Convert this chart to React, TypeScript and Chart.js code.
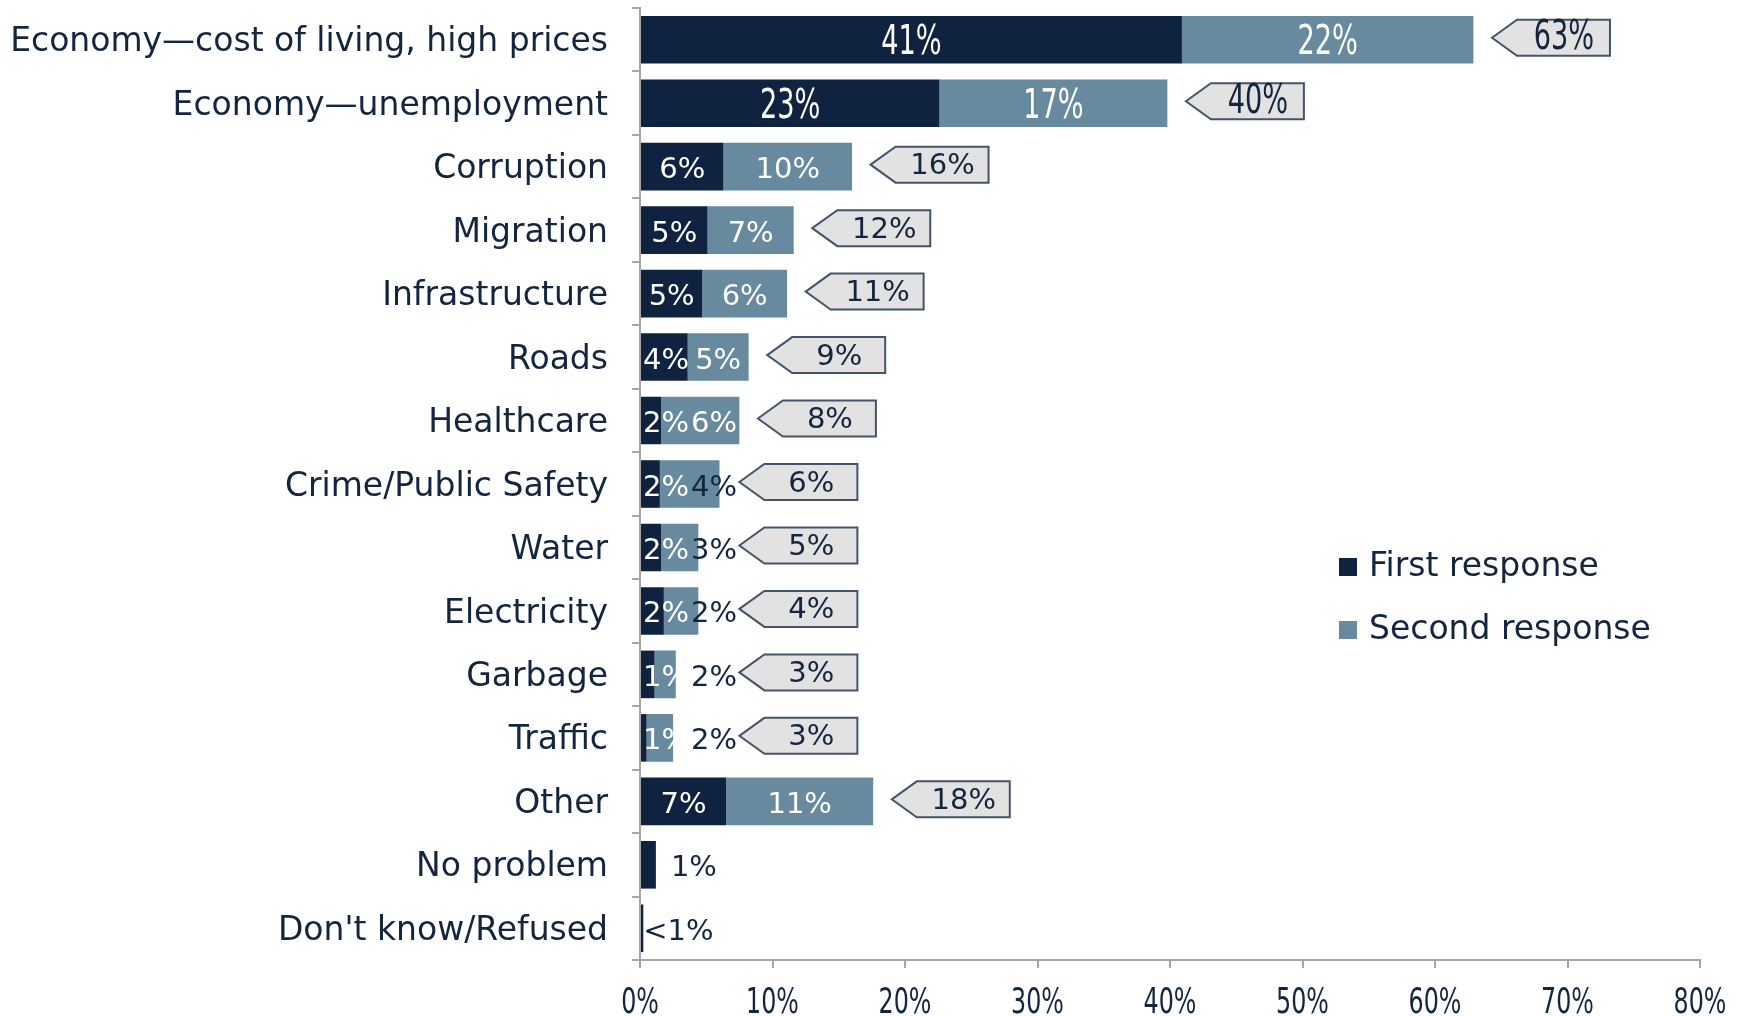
import React, { useEffect, useRef } from "react";
import { Chart, registerables } from "chart.js";

Chart.register(...registerables);

const categories = [
  "Economy\u2014cost of living, high prices",
  "Economy\u2014unemployment",
  "Corruption",
  "Migration",
  "Infrastructure",
  "Roads",
  "Healthcare",
  "Crime/Public Safety",
  "Water",
  "Electricity",
  "Garbage",
  "Traffic",
  "Other",
  "No problem",
  "Don't know/Refused",
];
const firstResponse = [40.9, 22.6, 6.3, 5.1, 4.7, 3.6, 1.6, 1.5, 1.6, 1.8, 1.1, 0.5, 6.5, 1.2, 0.25];
const secondResponse = [22.0, 17.2, 9.7, 6.5, 6.4, 4.6, 5.9, 4.5, 2.8, 2.6, 1.6, 2.0, 11.1, 0, 0];
const firstLabels = ["41%", "23%", "6%", "5%", "5%", "4%", "2%", "2%", "2%", "2%", "1%", "1%", "7%", "1%", "<1%"];
const secondLabels = ["22%", "17%", "10%", "7%", "6%", "5%", "6%", "4%", "3%", "2%", "2%", "2%", "11%", "", ""];
const totalLabels = ["63%", "40%", "16%", "12%", "11%", "9%", "8%", "6%", "5%", "4%", "3%", "3%", "18%", "", ""];
const seriesNames = ["First response", "Second response"];
const xTickValues = [0, 10, 20, 30, 40, 50, 60, 70, 80];

const NAVY = "#0f2340";
const STEEL = "#678a9e";
const GRAY = "#a6a6a6";
const TEXT = "#14253f";
const LABEL_FONT = "'DejaVu Sans', sans-serif";

// draw text horizontally condensed
function condensedText(ctx: any, text: string, x: number, y: number, size: number, scale: number, align: string) {
  ctx.save();
  ctx.font = `${size}px 'DejaVu Sans', sans-serif`;
  ctx.textAlign = align;
  ctx.textBaseline = "middle";
  ctx.translate(x, y);
  ctx.scale(scale, 1);
  ctx.fillText(text, 0, 0);
  ctx.restore();
}

const labelsPlugin = {
  id: "customLabels",
  afterDraw(chart: any) {
    const ctx = chart.ctx;
    const xScale = chart.scales.x;
    ctx.save();
    // x tick labels (condensed)
    ctx.fillStyle = TEXT;
    for (const t of xScale.ticks) {
      const px = xScale.getPixelForValue(t.value);
      condensedText(ctx, `${t.value}%`, px, 1004, 36, 0.66, "center");
    }
    const m0 = chart.getDatasetMeta(0);
    const m1 = chart.getDatasetMeta(1);
    ctx.textBaseline = "middle";
    for (let i = 0; i < categories.length; i++) {
      const big = i < 2;
      const e0 = m0.data[i];
      const e1 = m1.data[i];
      const t0 = firstLabels[i];
      const t1 = secondLabels[i];
      const left0 = Math.min(e0.base, e0.x);
      const right0 = Math.max(e0.base, e0.x);
      const left1 = Math.min(e1.base, e1.x);
      const right1 = Math.max(e1.base, e1.x);
      const ty = e0.y + 4;
      if (big) {
        ctx.fillStyle = "#ffffff";
        condensedText(ctx, t0, (left0 + right0) / 2, ty, 40, 0.68, "center");
        condensedText(ctx, t1, (left1 + right1) / 2, ty, 40, 0.68, "center");
      } else {
        ctx.font = `29px ${LABEL_FONT}`;
        const w0 = ctx.measureText(t0).width;
        if (!t1) {
          ctx.fillStyle = TEXT;
          ctx.textAlign = "left";
          ctx.fillText(t0, right0 + (firstResponse[i] > 0.5 ? 15 : 0), ty);
        } else {
          const c0 = Math.max((left0 + right0) / 2, left0 + w0 / 2 + 2);
          ctx.textAlign = "center";
          ctx.fillStyle = "#ffffff";
          ctx.fillText(t0, c0, ty);
          const w1 = ctx.measureText(t1).width;
          const c1 = Math.max((left1 + right1) / 2, c0 + w0 / 2 + w1 / 2 + 2);
          const small = parseInt(t1, 10) < 5;
          ctx.fillStyle = small ? TEXT : "#ffffff";
          ctx.fillText(t1, c1, ty);
        }
      }
      // callouts
      const tl = totalLabels[i];
      if (tl) {
        const total = firstResponse[i] + secondResponse[i];
        const tipX = xScale.getPixelForValue(Math.max(total + 1.4, 7.5));
        const cy = e0.y - 2;
        const h = 18;
        ctx.beginPath();
        ctx.moveTo(tipX, cy);
        ctx.lineTo(tipX + 25, cy - h);
        ctx.lineTo(tipX + 118, cy - h);
        ctx.lineTo(tipX + 118, cy + h);
        ctx.lineTo(tipX + 25, cy + h);
        ctx.closePath();
        ctx.fillStyle = "#e2e2e2";
        ctx.fill();
        ctx.lineWidth = 2;
        ctx.strokeStyle = "#44546a";
        ctx.stroke();
        ctx.fillStyle = TEXT;
        if (big) {
          condensedText(ctx, tl, tipX + 72, cy + 1, 40, 0.68, "center");
        } else {
          ctx.font = `29px ${LABEL_FONT}`;
          ctx.textAlign = "center";
          ctx.fillText(tl, tipX + 72, cy + 2);
        }
      }
    }
    // legend
    const lx = 1339;
    const ly = [567, 630];
    ctx.font = `33px ${LABEL_FONT}`;
    ctx.textAlign = "left";
    ctx.textBaseline = "middle";
    for (let k = 0; k < 2; k++) {
      const ds = chart.data.datasets[k];
      ctx.fillStyle = ds.backgroundColor;
      ctx.fillRect(lx, ly[k] - 9, 18, 18);
      ctx.fillStyle = TEXT;
      ctx.fillText(ds.label, lx + 30, ly[k]);
    }
    ctx.restore();
  },
};

export default function App() {
  const ref = useRef<HTMLCanvasElement | null>(null);
  useEffect(() => {
    if (!ref.current) return;
    const chart = new Chart(ref.current, {
      type: "bar",
      data: {
        labels: categories,
        datasets: [
          { label: seriesNames[0], data: firstResponse, backgroundColor: NAVY },
          { label: seriesNames[1], data: secondResponse, backgroundColor: STEEL },
        ],
      },
      options: {
        indexAxis: "y",
        responsive: false,
        animation: false,
        layout: { padding: { top: 8, right: 39, left: 0, bottom: 0 } },
        datasets: { bar: { categoryPercentage: 1, barPercentage: 0.75 } },
        plugins: { legend: { display: false }, tooltip: { enabled: false } },
        scales: {
          x: {
            stacked: true,
            min: 0,
            max: 80,
            afterBuildTicks: (s: any) => {
              s.ticks = xTickValues.map((v) => ({ value: v }));
            },
            afterFit: (s: any) => {
              s.height = 56;
              s.paddingLeft = 0;
              s.paddingRight = 0;
            },
            ticks: {
              callback: (v: any) => `${v}%`,
              color: "rgba(0,0,0,0)",
              font: { family: LABEL_FONT, size: 22 },
              padding: 14,
              maxRotation: 0,
            },
            grid: { drawOnChartArea: false, drawTicks: true, tickLength: 8, color: GRAY, lineWidth: 2 },
            border: { display: true, color: GRAY, width: 2 },
          },
          y: {
            stacked: true,
            afterFit: (s: any) => {
              s.width = 640;
              s.paddingTop = 0;
              s.paddingBottom = 0;
            },
            ticks: {
              color: TEXT,
              font: { family: LABEL_FONT, size: 33 },
              padding: 24,
              labelOffset: 3,
              autoSkip: false,
            },
            grid: { offset: true, drawOnChartArea: false, drawTicks: true, tickLength: 8, color: GRAY, lineWidth: 2 },
            border: { display: true, color: GRAY, width: 2 },
          },
        },
      },
      plugins: [labelsPlugin],
    });
    return () => chart.destroy();
  }, []);
  return (
    <div style={{ position: "fixed", left: 0, top: 0, width: 1739, height: 1016, background: "#fff" }}>
      <canvas ref={ref} width={1739} height={1016} style={{ width: 1739, height: 1016, display: "block" }} />
    </div>
  );
}
